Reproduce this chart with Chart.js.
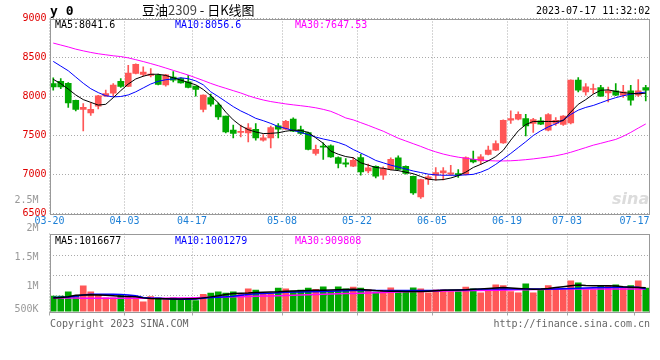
<!DOCTYPE html>
<html><head><meta charset="utf-8">
<script src="https://cdn.jsdelivr.net/npm/chart.js@4.4.1/dist/chart.umd.min.js"></script>
<style>
html,body{margin:0;padding:0;background:#fff;}
body{width:660px;height:360px;position:relative;overflow:hidden;font-family:"DejaVu Sans Mono",monospace;}
canvas{position:absolute;left:0;}
.t{position:absolute;white-space:nowrap;font-size:10px;line-height:12px;color:#000;}
</style></head><body>
<canvas id="k" width="660" height="232" style="top:0"></canvas>
<canvas id="v" width="660" height="110" style="top:222px"></canvas>
<canvas id="va" width="56" height="140" style="top:190px"></canvas>
<div class="t" style="left:612px;top:190px;font-family:'DejaVu Sans';font-style:italic;font-weight:bold;font-size:16px;line-height:18px;color:#dcdcdc">sina</div>
<div class="t" style="left:50px;top:3px;font-weight:bold;font-size:13px;line-height:15px">y 0</div>
<div class="t" style="left:142px;top:1px;font-family:'Noto Sans CJK SC';font-size:13px;line-height:17px">豆油<span style="color:#444">2309</span> - 日K线图</div>
<div class="t" style="left:536px;top:5px">2023-07-17 11:32:02</div>
<div class="t" style="left:55px;top:19px">MA5:8041.6</div>
<div class="t" style="left:175px;top:19px;color:#0000ff">MA10:8056.6</div>
<div class="t" style="left:295px;top:19px;color:#ff00ff">MA30:7647.53</div>
<div class="t" style="left:55px;top:235px">MA5:1016677</div>
<div class="t" style="left:175px;top:235px;color:#0000ff">MA10:1001279</div>
<div class="t" style="left:295px;top:235px;color:#ff00ff">MA30:909808</div>
<div class="t" style="left:50px;top:318px;color:#666">Copyright 2023 SINA.COM</div>
<div class="t" style="right:10px;top:318px;color:#666">http://finance.sina.com.cn</div>
<script>
const tickIdx=[0,10,19,31,41,51,61,69,78];
const tickLabels=['03-20','04-03','04-17','05-08','05-22','06-05','06-19','07-03','07-17'];
const yTicks=[6500,7000,7500,8000,8500,9000];
const volTicks=[500000,1000000,1500000,2000000,2500000];
const volTickLabels=['500K','1M','1.5M','2M','2.5M'];
const volGrid=[885000,1222000,1560000];

const open=[8167,8195,8170,7951,7833,7790,7876,8008,8043,8196,
8130,8295,8282,8270,8273,8148,8250,8230,8187,8132,
7833,7987,7889,7748,7568,7538,7533,7580,7440,7469,
7623,7580,7709,7577,7539,7269,7358,7367,7218,7150,
7106,7218,7046,7106,6991,7064,7213,7106,6978,6713,
6936,6991,7020,7004,7013,7000,7196,7175,7256,7312,
7405,7696,7709,7718,7654,7688,7568,7654,7641,7662,
8209,8060,8090,8115,8047,8072,8017,8072,8017,8115];
const close=[8123,8123,7918,7833,7860,7836,8008,8038,8148,8130,
8299,8414,8312,8287,8154,8277,8209,8175,8115,8090,
8017,7901,7738,7546,7526,7555,7597,7469,7469,7603,
7580,7683,7555,7526,7320,7324,7350,7226,7141,7132,
7183,7033,7085,6978,7077,7196,7064,7013,6764,6936,
6970,7026,7046,7020,6991,7218,7162,7226,7312,7397,
7696,7718,7773,7623,7705,7645,7769,7696,7748,8209,
8081,8123,8102,8004,8072,8017,8059,7952,8072,8081];
const high=[8240,8231,8180,7955,7910,7918,8015,8081,8167,8231,
8401,8420,8380,8359,8286,8285,8320,8240,8273,8135,
8020,8030,7918,7750,7632,7632,7654,7654,7513,7620,
7654,7696,7726,7620,7545,7376,7405,7380,7225,7205,
7218,7260,7135,7110,7098,7213,7238,7110,6980,6940,
6985,7090,7090,7119,7064,7225,7299,7256,7363,7431,
7700,7815,7802,7773,7720,7730,7782,7730,7755,8215,
8244,8167,8158,8142,8120,8167,8142,8142,8218,8142];
const low=[8081,8100,7860,7815,7560,7757,7841,8000,8008,8115,
8125,8290,8260,8251,8150,8132,8187,8170,8110,8004,
7802,7876,7705,7533,7469,7482,7418,7440,7427,7341,
7469,7575,7550,7515,7315,7248,7192,7220,7085,7098,
7100,6991,7020,6957,6936,7060,7060,7005,6744,6692,
6872,6927,6930,6990,6961,6995,7150,7128,7250,7305,
7400,7654,7700,7495,7538,7640,7560,7630,7630,7650,
8060,8017,8038,8000,7931,8010,7987,7889,8000,7944];
const ma5=[8220,8165,8095,8020,7960,7925,7890,7900,7985,8075,
8160,8225,8260,8285,8285,8270,8240,8210,8180,8150,
8090,8010,7920,7800,7700,7625,7575,7545,7525,7528,
7535,7555,7568,7565,7540,7470,7400,7300,7260,7230,
7215,7150,7120,7090,7080,7060,7050,7030,7010,6975,
6940,6930,6935,6955,6985,7030,7090,7130,7175,7230,
7310,7440,7560,7640,7680,7680,7680,7680,7690,7800,
7900,7960,8030,8080,8085,8065,8050,8040,8035,8042];
const ma10=[8450,8390,8330,8250,8170,8100,8050,8010,7995,8000,
8020,8060,8110,8160,8195,8215,8225,8240,8228,8200,
8150,8060,8000,7935,7870,7815,7770,7720,7690,7655,
7615,7590,7565,7540,7510,7480,7455,7435,7410,7375,
7320,7275,7230,7180,7150,7120,7095,7070,7045,7025,
7005,6995,6990,6990,6990,6995,7002,7030,7070,7130,
7200,7270,7345,7420,7500,7560,7610,7650,7700,7770,
7825,7860,7885,7920,7955,7985,8010,8030,8045,8057];
const ma30=[8685,8660,8635,8607,8585,8565,8548,8535,8522,8512,
8495,8472,8448,8422,8395,8365,8335,8305,8275,8240,
8205,8168,8135,8105,8075,8045,8010,7980,7955,7935,
7920,7905,7893,7882,7870,7855,7835,7810,7770,7725,
7700,7665,7630,7592,7555,7510,7465,7430,7395,7360,
7322,7290,7262,7240,7222,7208,7196,7186,7178,7174,
7174,7176,7182,7190,7200,7212,7225,7240,7260,7285,
7315,7345,7376,7400,7425,7450,7490,7540,7595,7648];
const volume=[877000,877000,949000,877000,1051000,949000,906000,848000,848000,906000,
877000,848000,782000,869000,848000,818000,848000,818000,818000,804000,
906000,927000,949000,927000,949000,920000,1000000,978000,920000,920000,
1014000,1000000,964000,978000,1014000,993000,1036000,964000,1036000,1000000,
1029000,1012000,988000,944000,972000,1017000,972000,944000,1017000,1000000,
932000,983000,983000,954000,954000,1029000,1000000,932000,983000,1067000,
1056000,954000,932000,1084000,932000,988000,1056000,1000000,988000,1135000,
1102000,988000,988000,1056000,1056000,1067000,1012000,1056000,1135000,1012000];
const vma5=[848000,855000,869000,891000,898000,902000,898000,891000,884000,877000,
873000,866000,848000,837000,833000,832000,829000,831000,832000,833000,
848000,865000,884000,906000,920000,927000,931000,938000,944000,949000,
953000,960000,964000,967000,972000,975000,978000,982000,985000,988000,
993000,989000,982000,971000,964000,960000,960000,956000,954000,954000,
960000,967000,975000,982000,983000,985000,993000,1000000,1007000,1014000,
1022000,1014000,1007000,1000000,993000,996000,1007000,1022000,1036000,1051000,
1065000,1058000,1054000,1051000,1051000,1047000,1036000,1029000,1022000,1017000];
const vma10=[855000,858000,862000,877000,898000,909000,911000,911000,911000,906000,
898000,884000,855000,843000,840000,833000,829000,826000,826000,827000,
840000,855000,860000,866000,877000,891000,906000,916000,920000,927000,
935000,942000,949000,949000,951000,953000,956000,960000,964000,967000,
971000,972000,972000,972000,972000,972000,972000,972000,972000,972000,
972000,972000,975000,978000,982000,985000,989000,993000,996000,1000000,
1000000,1000000,1000000,1000000,1000000,1000000,1000000,1000000,1004000,1007000,
1011000,1014000,1018000,1022000,1025000,1029000,1029000,1029000,1029000,1001000];
const vma30=[848000,846000,845000,844000,843000,843000,843000,843000,843000,843000,
843000,843000,843000,843000,843000,843000,844000,846000,848000,850000,
853000,857000,860000,863000,866000,869000,872000,875000,878000,881000,
884000,888000,892000,896000,900000,904000,908000,912000,916000,920000,
924000,928000,932000,936000,940000,944000,948000,951000,954000,957000,
960000,962000,964000,966000,968000,970000,972000,974000,976000,978000,
980000,982000,984000,986000,988000,990000,992000,994000,996000,998000,
999000,1000000,1000000,1000000,1000000,1000000,1000000,1000000,1000000,1000000];

const RED='#ff5757', GREEN='#00a800', GRID='#aaaaaa', MONO='DejaVu Sans Mono';
const col=close.map((c,i)=>c>=open[i]?RED:GREEN);
const pts=arr=>arr.map((v,i)=>({x:i+0.5,y:v}));
const frame={id:'frame',afterDatasetsDraw(ch){const a=ch.chartArea,c=ch.ctx;c.save();c.strokeStyle='#999';c.lineWidth=1;
  c.strokeRect(Math.round(a.left)+0.5,Math.round(a.top)+0.5,Math.round(a.right)-Math.round(a.left)-1,Math.round(a.bottom)-Math.round(a.top));c.restore();}};
const line=(d,color,w)=>({type:'line',data:pts(d),borderColor:color,borderWidth:w,pointRadius:0,tension:0,order:0});
const xGrid={offset:false,color:ctx=>(ctx.tick&&ctx.tick.value===78)?'rgba(0,0,0,0)':GRID};
const noUI={legend:{display:false},tooltip:{enabled:false}};

new Chart(document.getElementById('k'),{
  type:'bar',
  data:{datasets:[
    line(ma5,'#000000',1),line(ma10,'#0000ff',1),line(ma30,'#ff00ff',1),
    {data:open.map((o,i)=>({x:i+0.5,y:[o,close[i]]})),backgroundColor:col,barThickness:6,grouped:false,minBarLength:1,borderWidth:0,order:5},
    {data:low.map((l,i)=>({x:i+0.5,y:[l,high[i]]})),backgroundColor:col,barThickness:1,grouped:false,borderWidth:0,order:6}
  ]},
  options:{responsive:false,animation:false,events:[],
    layout:{padding:{left:0,right:10.5,top:18.5,bottom:0}},
    plugins:noUI,
    scales:{
      x:{type:'linear',min:0,max:80,offset:false,
        afterBuildTicks:s=>{s.ticks=tickIdx.map(v=>({value:v}));},
        afterFit:s=>{s.height=18.5;},
        ticks:{autoSkip:false,maxRotation:0,padding:2,color:'#1c7fd6',font:{family:MONO,size:10},
          callback:v=>tickLabels[tickIdx.indexOf(v)]},
        grid:Object.assign({drawTicks:false},xGrid),border:{display:false,dash:[1,2]}},
      y:{min:6500,max:9000,
        afterBuildTicks:s=>{s.ticks=yTicks.map(v=>({value:v}));},
        afterFit:s=>{s.width=49.5;},
        ticks:{padding:3,color:'#e00000',font:{family:MONO,size:10},callback:v=>String(v)},
        grid:{drawTicks:false,color:GRID},border:{display:false,dash:[1,2]}}
    }},
  plugins:[frame]
});

new Chart(document.getElementById('v'),{
  type:'bar',
  data:{datasets:[
    line(vma5,'#000000',1.5),line(vma10,'#0000ff',1.5),line(vma30,'#ff00ff',1.5),
    {data:pts(volume),backgroundColor:col,barThickness:6,grouped:false,borderWidth:0,order:5}
  ]},
  options:{responsive:false,animation:false,events:[],
    layout:{padding:{left:0,right:10.5,top:11.5,bottom:16.5}},
    plugins:noUI,
    scales:{
      x:{type:'linear',min:0,max:80,offset:false,
        afterBuildTicks:s=>{s.ticks=tickIdx.map(v=>({value:v}));},
        afterFit:s=>{s.height=4;},
        ticks:{display:false},
        grid:Object.assign({drawTicks:true,tickLength:4,tickColor:GRID},xGrid),border:{display:false,dash:[1,2]}},
      y:{min:618000,max:1935000,
        afterBuildTicks:s=>{s.ticks=volGrid.map(v=>({value:v}));},
        afterFit:s=>{s.width=49.5;},
        ticks:{display:false},
        grid:{drawTicks:false,color:GRID},border:{display:false,dash:[1,2]}}
    }},
  plugins:[frame]
});

new Chart(document.getElementById('va'),{
  type:'line',
  data:{datasets:[]},
  options:{responsive:false,animation:false,events:[],
    layout:{padding:{left:0,right:0,top:10,bottom:11.5}},
    plugins:noUI,
    scales:{
      x:{type:'linear',min:0,max:1,display:false},
      y:{min:500000,max:2500000,
        afterBuildTicks:s=>{s.ticks=volTicks.map(v=>({value:v}));},
        afterFit:s=>{s.width=49.5;},
        ticks:{padding:3,color:'#999999',font:{family:MONO,size:10},
          callback:v=>{const l=volTickLabels[volTicks.indexOf(v)];return v===500000?[l,'']:l;}},
        grid:{display:false},border:{display:false}}
    }}
});
</script>
</body></html>
